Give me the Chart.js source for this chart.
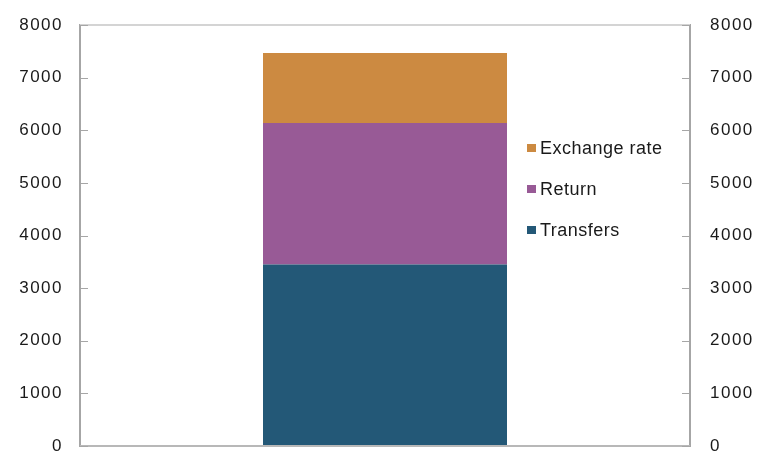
<!DOCTYPE html>
<html>
<head>
<meta charset="utf-8">
<script src="https://cdn.jsdelivr.net/npm/chart.js@4/dist/chart.umd.min.js"></script>
<style>
  html, body { margin: 0; padding: 0; background: #ffffff; }
  #wrap { width: 761px; height: 452px; }
</style>
</head>
<body>
<div id="wrap"><canvas id="c" width="761" height="452"></canvas></div>
<script>
// Decomposition of the total into its three components (single stacked column)
const categories = [''];
const transfers = [3450];
const returns = [2690];
const exchangeRate = [1330];
const axisTicks = [0, 1000, 2000, 3000, 4000, 5000, 6000, 7000, 8000];

const FONT = '"Liberation Sans", Arial, sans-serif';
const AXIS_GREY = '#a6a6a6';

// Slightly wide-set digits on both value axes
const tickSpacing = {
  id: 'tickSpacing',
  beforeDraw(chart) { chart.ctx.letterSpacing = '1.5px'; },
  beforeDatasetsDraw(chart) { chart.ctx.letterSpacing = '0px'; }
};

// Short tick marks pointing into the plot from both value axes, plus the frame
const framePlugin = {
  id: 'frame',
  afterDatasetsDraw(chart) {
    const { ctx, chartArea: a } = chart;
    const yl = chart.scales.y, yr = chart.scales.y2;
    ctx.save();
    ctx.lineWidth = 2;
    // top edge
    ctx.strokeStyle = '#d4d4d4';
    ctx.beginPath(); ctx.moveTo(a.left, a.top); ctx.lineTo(a.right, a.top); ctx.stroke();
    // bottom edge
    ctx.strokeStyle = '#b8b8b8';
    ctx.beginPath(); ctx.moveTo(a.left, a.bottom); ctx.lineTo(a.right, a.bottom); ctx.stroke();
    // inner tick marks
    ctx.strokeStyle = AXIS_GREY;
    ctx.lineWidth = 1;
    yl.ticks.forEach(t => {
      const p = Math.round(yl.getPixelForValue(t.value)) + 0.5;
      ctx.beginPath(); ctx.moveTo(a.left, p); ctx.lineTo(a.left + 8, p); ctx.stroke();
    });
    yr.ticks.forEach(t => {
      const p = Math.round(yr.getPixelForValue(t.value)) + 0.5;
      ctx.beginPath(); ctx.moveTo(a.right, p); ctx.lineTo(a.right - 8, p); ctx.stroke();
    });
    ctx.restore();
  }
};

// Vertical legend placed inside the plot, to the right of the column
const insideLegend = {
  id: 'insideLegend',
  afterDraw(chart) {
    const { ctx } = chart;
    const items = chart.data.datasets.slice().reverse();
    const x = 527, y0 = 148, step = 41;
    ctx.save();
    ctx.font = '18px ' + FONT;
    ctx.letterSpacing = '0.5px';
    ctx.textBaseline = 'middle';
    ctx.textAlign = 'left';
    items.forEach((ds, i) => {
      const y = y0 + i * step;
      ctx.fillStyle = ds.backgroundColor;
      ctx.fillRect(x, y - 4, 9, 8);
      ctx.fillStyle = '#1a1a1a';
      ctx.fillText(ds.label, x + 13, y + 1);
    });
    ctx.restore();
  }
};

function tickOpts(pad) {
  return {
    color: '#1a1a1a',
    font: { family: FONT, size: 17 },
    padding: pad,
    autoSkip: false,
    callback: v => String(v)
  };
}

// Keep the plot edges fixed: no extra room for half-height end labels
function fixAxis(width) {
  return function (s) {
    s.width = width;
    s.paddingTop = 0;
    s.paddingBottom = 0;
  };
}

new Chart(document.getElementById('c'), {
  type: 'bar',
  data: {
    labels: categories,
    datasets: [
      { label: 'Transfers', data: transfers, backgroundColor: '#235877' },
      { label: 'Return', data: returns, backgroundColor: '#985a96' },
      { label: 'Exchange rate', data: exchangeRate, backgroundColor: '#cc8a41' }
    ]
  },
  options: {
    responsive: false,
    animation: false,
    layout: { padding: { left: 0, right: 0, top: 25, bottom: 6 } },
    datasets: { bar: { barPercentage: 0.4, categoryPercentage: 1.0 } },
    plugins: { legend: { display: false }, tooltip: { enabled: false } },
    scales: {
      x: {
        stacked: true,
        display: false
      },
      y: {
        stacked: true,
        position: 'left',
        min: 0, max: 8000,
        afterBuildTicks(s) { s.ticks = axisTicks.map(v => ({ value: v })); },
        afterFit: fixAxis(80),
        grid: { display: true, drawOnChartArea: false, drawTicks: false },
        border: { display: true, color: AXIS_GREY, width: 2 },
        ticks: tickOpts(17)
      },
      y2: {
        position: 'right',
        min: 0, max: 8000,
        afterBuildTicks(s) { s.ticks = axisTicks.map(v => ({ value: v })); },
        afterFit: fixAxis(71),
        grid: { display: true, drawOnChartArea: false, drawTicks: false },
        border: { display: true, color: AXIS_GREY, width: 2 },
        ticks: tickOpts(20)
      }
    }
  },
  plugins: [tickSpacing, framePlugin, insideLegend]
});
</script>
</body>
</html>
